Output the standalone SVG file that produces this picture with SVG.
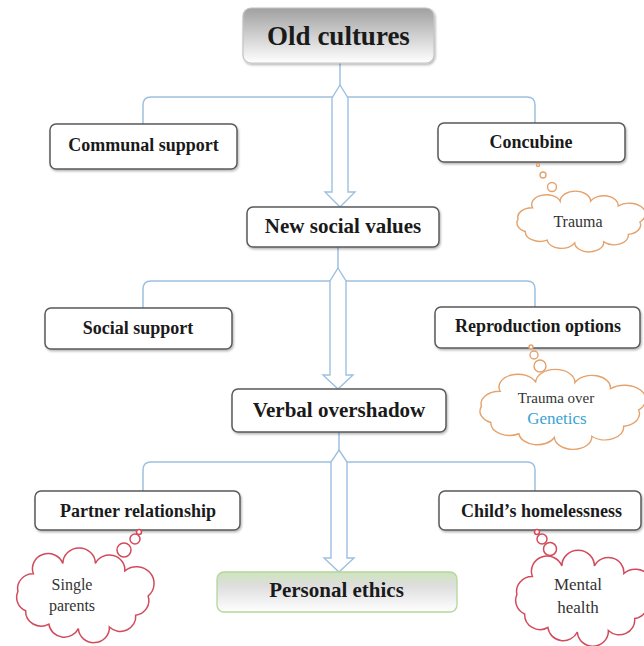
<svg xmlns="http://www.w3.org/2000/svg" xmlns:xlink="http://www.w3.org/1999/xlink" width="644" height="646" viewBox="0 0 644 646">
<style>
.box{fill:#fff;stroke:#5a5a5a;stroke-width:1.5;filter:url(#sh)}
.lbl{font-family:"Liberation Serif","Times New Roman",serif;font-weight:bold;fill:#1a1a1a;text-anchor:middle}
.ctxt{font-family:"Liberation Serif","Times New Roman",serif;fill:#333;text-anchor:middle}
.con{fill:none;stroke:#9dc0e0;stroke-width:1.5}
.arr{fill:#fff;stroke:#9dc0e0;stroke-width:1.4;stroke-linejoin:miter}
.orange{fill:#fff;stroke:#e4a26c;stroke-width:1.4}
.red{fill:#fff;stroke:#d24b5c;stroke-width:1.5}
</style>
<defs>
<filter id="sh" x="-10%" y="-20%" width="120%" height="150%">
<feDropShadow dx="1" dy="1.5" stdDeviation="1" flood-color="#000" flood-opacity="0.3"/>
</filter>
<linearGradient id="gOld" x1="0" y1="0" x2="0" y2="1">
<stop offset="0" stop-color="#a0a0a0"/>
<stop offset="1" stop-color="#ffffff"/>
</linearGradient>
<linearGradient id="gPers" x1="0" y1="0" x2="0" y2="1">
<stop offset="0" stop-color="#cfe4bd"/>
<stop offset="0.35" stop-color="#dedede"/>
<stop offset="1" stop-color="#ffffff"/>
</linearGradient>
<path id="cloud" vector-effect="non-scaling-stroke" d="M42,0 A10,10 0 0 1 34,13 A10,10 0 0 1 17,21 A10,10 0 0 1 -3,22 A10,10 0 0 1 -22,19 A10,10 0 0 1 -37,10 A10,10 0 0 1 -42,-3 A10,10 0 0 1 -32,-15 A10,10 0 0 1 -13,-22 A10,10 0 0 1 8,-22 A10,10 0 0 1 27,-17 A10,10 0 0 1 42,0 Z"/>
</defs>
<rect width="644" height="646" fill="#fff"/>

<g id="connectors">
<path class="con" d="M340,63 V86"/>
<path class="con" d="M143,124 V105 Q143,97 151,97 H527 Q535,97 535,105 V123"/>
<path class="con" d="M338,247 V269"/>
<path class="con" d="M143,308 V289 Q143,281 151,281 H527 Q535,281 535,289 V307"/>
<path class="con" d="M339,432 V451"/>
<path class="con" d="M143,491 V470 Q143,462 151,462 H527 Q535,462 535,470 V491"/>
<path class="arr" d="M340,85 L348,98 L348,192 L355,192 L340,207 L325,192 L332,192 L332,98 Z"/>
<path class="arr" d="M338,268 L346,281 L346,375 L353,375 L338,389 L323,375 L330,375 L330,281 Z"/>
<path class="arr" d="M339,450 L347,462 L347,558 L354,558 L339,572 L324,558 L331,558 L331,462 Z"/>
</g>

<g id="old-cultures">
<rect x="243" y="8" width="191" height="55" rx="8" fill="url(#gOld)" stroke="#c4c4c4" stroke-width="1.2" filter="url(#sh)"/>
<text class="lbl" x="338.5" y="45" font-size="27">Old cultures</text>
</g>

<g id="communal-support">
<rect class="box" x="50" y="124" width="187" height="45" rx="6"/>
<text class="lbl" x="143.5" y="151" font-size="18">Communal support</text>
</g>

<g id="concubine">
<rect class="box" x="438" y="123" width="187" height="39" rx="6"/>
<text class="lbl" x="531" y="148" font-size="18">Concubine</text>
</g>

<g id="trauma">
<circle class="orange" cx="538" cy="165" r="1.5"/>
<circle class="orange" cx="543" cy="175" r="3"/>
<circle class="orange" cx="552" cy="187" r="4.5"/>
<use href="#cloud" class="orange" transform="translate(579,222) scale(1.45,0.95)"/>
<text class="ctxt" x="578" y="227" font-size="16">Trauma</text>
</g>

<g id="new-social-values">
<rect class="box" x="247" y="207" width="192" height="40" rx="6"/>
<text class="lbl" x="343" y="233" font-size="21">New social values</text>
</g>

<g id="social-support">
<rect class="box" x="45" y="308" width="187" height="41" rx="6"/>
<text class="lbl" x="138" y="334" font-size="18">Social support</text>
</g>

<g id="reproduction-options">
<rect class="box" x="435" y="307" width="205" height="41" rx="6"/>
<text class="lbl" x="538" y="332" font-size="18">Reproduction options</text>
</g>

<g id="trauma-genetics">
<circle class="orange" cx="531" cy="347" r="2"/>
<circle class="orange" cx="534" cy="355" r="4"/>
<circle class="orange" cx="540" cy="366" r="6"/>
<use href="#cloud" class="orange" transform="translate(560,410) scale(1.87,1.25)"/>
<text class="ctxt" x="556" y="403" font-size="15">Trauma over</text>
<text class="ctxt" x="557" y="424" font-size="17" style="fill:#3aa3d4">Genetics</text>
</g>

<g id="verbal-overshadow">
<rect class="box" x="232" y="389" width="214" height="43" rx="6"/>
<text class="lbl" x="339" y="417" font-size="21">Verbal overshadow</text>
</g>

<g id="partner-relationship">
<rect class="box" x="35" y="491" width="205" height="39" rx="6"/>
<text class="lbl" x="138" y="517" font-size="18">Partner relationship</text>
</g>

<g id="single-parents">
<circle class="red" cx="139" cy="532" r="2.5"/>
<circle class="red" cx="135" cy="539" r="5"/>
<circle class="red" cx="124" cy="550" r="7"/>
<use href="#cloud" class="red" transform="translate(83,596) scale(1.55,1.48)"/>
<text class="ctxt" x="72" y="590" font-size="16">Single</text>
<text class="ctxt" x="72" y="611" font-size="16">parents</text>
</g>

<g id="childs-homelessness">
<rect class="box" x="439" y="491" width="202" height="39" rx="6"/>
<text class="lbl" x="541.5" y="517" font-size="18">Child’s homelessness</text>
</g>

<g id="mental-health">
<circle class="red" cx="537" cy="532" r="2.5"/>
<circle class="red" cx="542" cy="539" r="5"/>
<circle class="red" cx="550" cy="549" r="6.5"/>
<use href="#cloud" class="red" transform="translate(582,599) scale(1.55,1.5)"/>
<text class="ctxt" x="578" y="590" font-size="17">Mental</text>
<text class="ctxt" x="578" y="613" font-size="17">health</text>
</g>

<g id="personal-ethics">
<rect x="217" y="572" width="240" height="40" rx="7" fill="url(#gPers)" stroke="#b4d69c" stroke-width="1.3"/>
<text class="lbl" x="336.5" y="597" font-size="21">Personal ethics</text>
</g>
</svg>
